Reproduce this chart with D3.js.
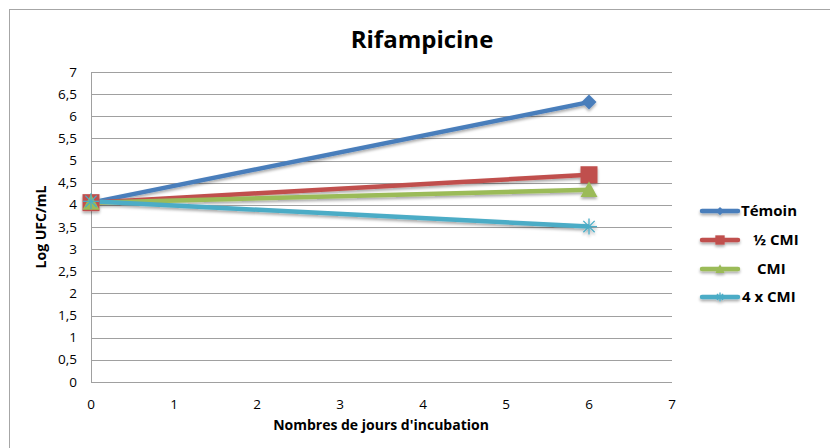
<!DOCTYPE html>
<html>
<head>
<meta charset="utf-8">
<script src="https://cdn.jsdelivr.net/npm/d3@7"></script>
<style>
  body { margin: 0; background: #fff; }
  svg text { font-family: "Open Sans", "Noto Sans", sans-serif; fill: #000; }
</style>
</head>
<body>
<div id="chart"></div>
<script>
// jours d'incubation
var days = [0, 6];
// Log UFC/mL per series
var temoin = [4.05, 6.32];
var demiCmi = [4.05, 4.68];
var cmi = [4.05, 4.34];
var quatreCmi = [4.08, 3.51];
var seriesNames = ["Témoin", "½ CMI", "CMI", "4 x CMI"];
var xTicks = [0, 1, 2, 3, 4, 5, 6, 7];
var yTicks = [0, 0.5, 1, 1.5, 2, 2.5, 3, 3.5, 4, 4.5, 5, 5.5, 6, 6.5, 7];

var W = 830, H = 448;
var colors = ["#4a7ebb", "#c0504d", "#9bbb59", "#4bacc6"];

var svg = d3.select("#chart").append("svg")
    .attr("width", W).attr("height", H);

// outer chart frame (runs off the right/bottom edge like the reference)
svg.append("rect")
    .attr("x", 9.5).attr("y", 9.5)
    .attr("width", W + 20).attr("height", H + 20)
    .attr("fill", "#fff").attr("stroke", "#a6a6a6").attr("stroke-width", 1);

var x = d3.scaleLinear().domain([0, 7]).range([91, 672]);
var y = d3.scaleLinear().domain([0, 7]).range([382, 72]);

// gridlines
svg.append("g").selectAll("line")
    .data(yTicks)
    .enter().append("line")
    .attr("x1", x(0)).attr("x2", x(7))
    .attr("y1", function(d) { return Math.round(y(d)) + 0.5; })
    .attr("y2", function(d) { return Math.round(y(d)) + 0.5; })
    .attr("stroke", "#a0a0a0").attr("stroke-width", 1);

// y axis line
svg.append("line")
    .attr("x1", x(0) + 0.5).attr("x2", x(0) + 0.5)
    .attr("y1", y(7)).attr("y2", y(0))
    .attr("stroke", "#a0a0a0");

// tick labels
var fmt = function(d) { return String(d).replace(".", ","); };
svg.append("g").selectAll("text")
    .data(yTicks)
    .enter().append("text")
    .attr("x", 77).attr("y", function(d) { return y(d) + 4.5; })
    .attr("text-anchor", "end").attr("font-size", 13.5)
    .text(fmt);

svg.append("g").selectAll("text")
    .data(xTicks)
    .enter().append("text")
    .attr("x", function(d) { return x(d); }).attr("y", 409)
    .attr("text-anchor", "middle").attr("font-size", 13.5)
    .text(fmt);

// titles
svg.append("text")
    .attr("x", 422).attr("y", 48)
    .attr("text-anchor", "middle").attr("font-size", 24).attr("font-weight", "bold")
    .text("Rifampicine");

svg.append("text")
    .attr("x", 381).attr("y", 430)
    .attr("text-anchor", "middle").attr("font-size", 14).attr("font-weight", "bold")
    .text("Nombres de jours d'incubation");

svg.append("text")
    .attr("transform", "translate(46,227) rotate(-90)")
    .attr("text-anchor", "middle").attr("font-size", 14).attr("font-weight", "bold")
    .text("Log UFC/mL");

// shadow
var defs = svg.append("defs");
var f = defs.append("filter").attr("id", "shadow")
    .attr("x", "-20%").attr("y", "-20%").attr("width", "140%").attr("height", "160%");
f.append("feGaussianBlur").attr("in", "SourceAlpha").attr("stdDeviation", 1.5);
f.append("feOffset").attr("dx", 0).attr("dy", 2).attr("result", "b");
f.append("feComponentTransfer").append("feFuncA").attr("type", "linear").attr("slope", 0.35);
var m = f.append("feMerge");
m.append("feMergeNode");
m.append("feMergeNode").attr("in", "SourceGraphic");

var data = [temoin, demiCmi, cmi, quatreCmi];
var line = d3.line()
    .x(function(d, i) { return x(days[i]); })
    .y(function(d) { return y(d); });

// marker with half-width s
function drawMarker(g, k, cx, cy, s) {
    var p;
    if (k === 0) {
        p = [[0, -s], [s, 0], [0, s], [-s, 0]];
    } else if (k === 1) {
        p = [[-s, -s], [s, -s], [s, s], [-s, s]];
    } else if (k === 2) {
        p = [[0, -s], [s, s * 0.85], [-s, s * 0.85]];
    }
    if (p) {
        g.append("path")
            .attr("d", "M" + p.map(function(q) { return (cx + q[0]) + "," + (cy + q[1]); }).join("L") + "Z")
            .attr("fill", colors[k]);
    } else {
        [0, 45, 90, 135].forEach(function(a) {
            var rad = a * Math.PI / 180;
            g.append("line")
                .attr("x1", cx - s * Math.cos(rad)).attr("y1", cy - s * Math.sin(rad))
                .attr("x2", cx + s * Math.cos(rad)).attr("y2", cy + s * Math.sin(rad))
                .attr("stroke", colors[k]).attr("stroke-width", 1.3);
        });
    }
}
var markSize = [7.5, 8.5, 8.5, 8];

var plot = svg.append("g").attr("filter", "url(#shadow)");
data.forEach(function(vals, k) {
    plot.append("path")
        .datum(vals)
        .attr("d", line)
        .attr("fill", "none")
        .attr("stroke", colors[k])
        .attr("stroke-width", 4.5);
});
data.forEach(function(vals, k) {
    vals.forEach(function(v, i) {
        drawMarker(plot, k, x(days[i]), y(v), markSize[k]);
    });
});

// legend
var legY = [211, 240, 269, 297];
var legTextX = [741, 753, 757, 742];
var leg = svg.append("g");
var legLines = leg.append("g").attr("filter", "url(#shadow)");
seriesNames.forEach(function(name, k) {
    legLines.append("line")
        .attr("x1", 702).attr("x2", 738)
        .attr("y1", legY[k]).attr("y2", legY[k])
        .attr("stroke", colors[k]).attr("stroke-width", 4.5)
        .attr("stroke-linecap", "round");
    drawMarker(legLines, k, 720, legY[k], markSize[k] * 0.55);
    leg.append("text")
        .attr("x", legTextX[k]).attr("y", legY[k] + 5)
        .attr("font-size", 15).attr("font-weight", "bold")
        .text(name);
});
</script>
</body>
</html>
